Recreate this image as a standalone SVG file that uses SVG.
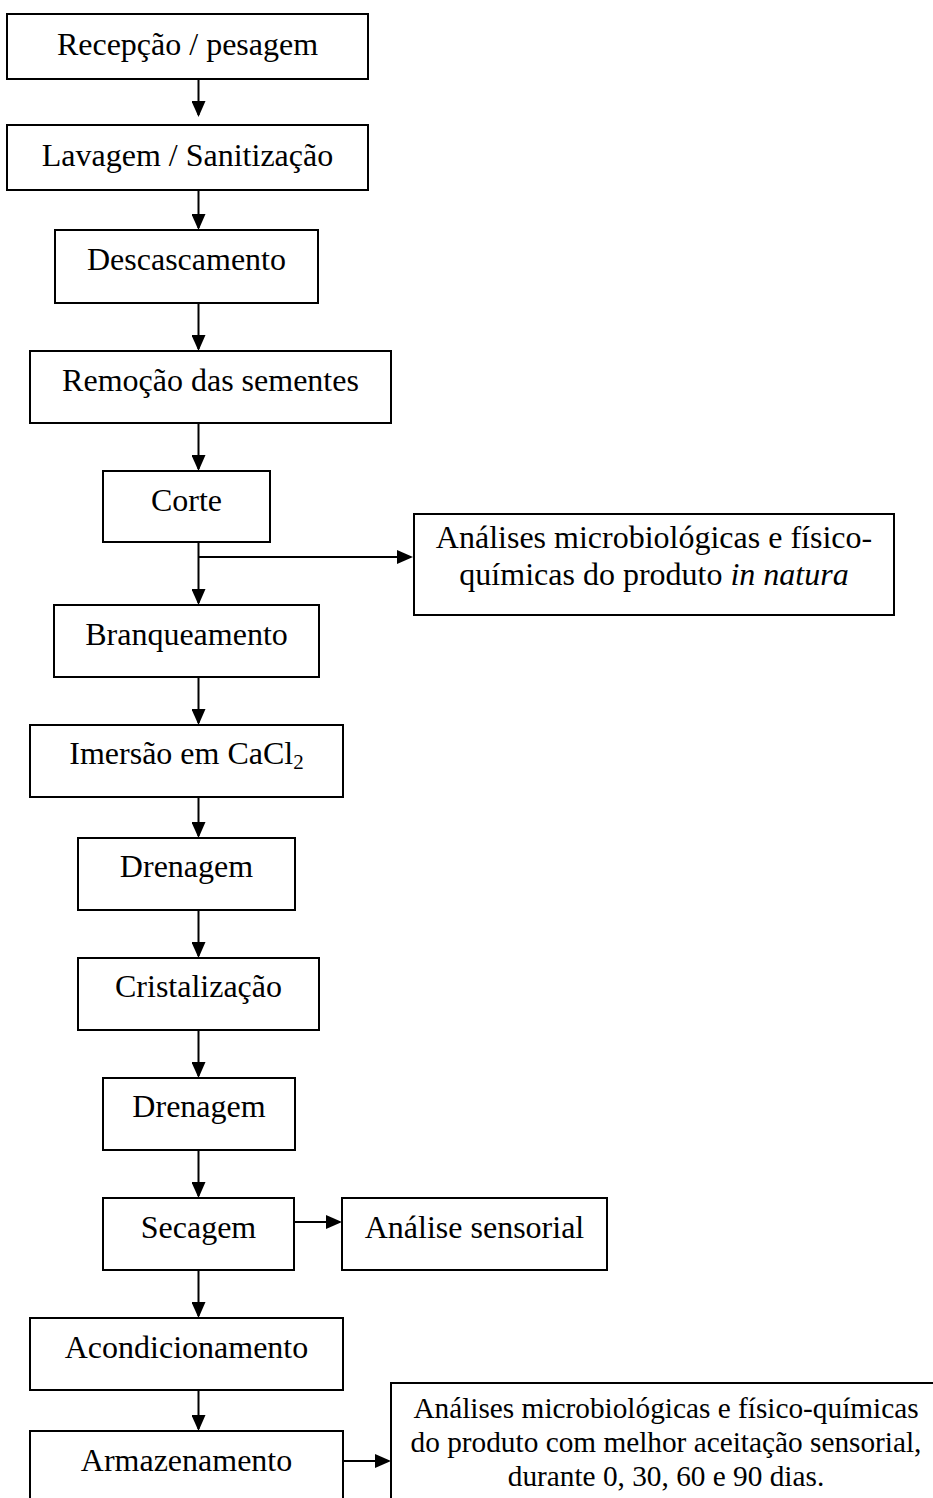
<svg xmlns="http://www.w3.org/2000/svg" width="933" height="1498" viewBox="0 0 933 1498">
<defs>
<style>
.b{fill:#fff;stroke:#000;stroke-width:2}
.t{font-family:"Liberation Serif","Times New Roman",serif;font-size:32px;fill:#000;text-anchor:middle}
.s{font-family:"Liberation Serif","Times New Roman",serif;font-size:29.3px;fill:#000;text-anchor:middle}
.c{stroke:#000;stroke-width:2;fill:none;marker-end:url(#ah)}
</style>
<marker id="ah" viewBox="0 0 16 14" refX="14" refY="7" markerWidth="16" markerHeight="14" markerUnits="userSpaceOnUse" orient="auto">
<path d="M0,0 L16,7 L0,14 Z" fill="#000"/>
</marker>
</defs>
<rect width="933" height="1498" fill="#fff"/>
<g id="connectors">
<line class="c" x1="198.5" y1="79" x2="198.5" y2="115"/>
<line class="c" x1="198.5" y1="190" x2="198.5" y2="228"/>
<line class="c" x1="198.5" y1="303" x2="198.5" y2="349"/>
<line class="c" x1="198.5" y1="423" x2="198.5" y2="469"/>
<line class="c" x1="198.5" y1="542" x2="198.5" y2="603"/>
<line class="c" x1="198.5" y1="557" x2="411" y2="557"/>
<line class="c" x1="198.5" y1="677" x2="198.5" y2="723"/>
<line class="c" x1="198.5" y1="797" x2="198.5" y2="836"/>
<line class="c" x1="198.5" y1="910" x2="198.5" y2="956"/>
<line class="c" x1="198.5" y1="1030" x2="198.5" y2="1076"/>
<line class="c" x1="198.5" y1="1150" x2="198.5" y2="1196"/>
<line class="c" x1="294" y1="1222" x2="340" y2="1222"/>
<line class="c" x1="198.5" y1="1270" x2="198.5" y2="1316"/>
<line class="c" x1="198.5" y1="1390" x2="198.5" y2="1429"/>
<line class="c" x1="343" y1="1461" x2="389" y2="1461"/>
</g>
<g id="n1"><rect class="b" x="7" y="14" width="361" height="65"/><text class="t" x="187.5" y="55">Recepção / pesagem</text></g>
<g id="n2"><rect class="b" x="7" y="125" width="361" height="65"/><text class="t" x="187.5" y="166">Lavagem / Sanitização</text></g>
<g id="n3"><rect class="b" x="55" y="230" width="263" height="73"/><text class="t" x="186.5" y="270">Descascamento</text></g>
<g id="n4"><rect class="b" x="30" y="351" width="361" height="72"/><text class="t" x="210.5" y="391">Remoção das sementes</text></g>
<g id="n5"><rect class="b" x="103" y="471" width="167" height="71"/><text class="t" x="186.5" y="511">Corte</text></g>
<g id="n6"><rect class="b" x="414" y="514" width="480" height="101"/><text class="t" x="654" y="548">Análises microbiológicas e físico-</text><text class="t" x="654" y="585">químicas do produto <tspan font-style="italic">in natura</tspan></text></g>
<g id="n7"><rect class="b" x="54" y="605" width="265" height="72"/><text class="t" x="186.5" y="645">Branqueamento</text></g>
<g id="n8"><rect class="b" x="30" y="725" width="313" height="72"/><text class="t" x="186.5" y="764">Imersão em CaCl<tspan font-size="21" dy="5">2</tspan></text></g>
<g id="n9"><rect class="b" x="78" y="838" width="217" height="72"/><text class="t" x="186.5" y="877">Drenagem</text></g>
<g id="n10"><rect class="b" x="78" y="958" width="241" height="72"/><text class="t" x="198.5" y="997">Cristalização</text></g>
<g id="n11"><rect class="b" x="103" y="1078" width="192" height="72"/><text class="t" x="199" y="1117">Drenagem</text></g>
<g id="n12"><rect class="b" x="103" y="1198" width="191" height="72"/><text class="t" x="198.5" y="1238">Secagem</text></g>
<g id="n13"><rect class="b" x="342" y="1198" width="265" height="72"/><text class="t" x="474.5" y="1238">Análise sensorial</text></g>
<g id="n14"><rect class="b" x="30" y="1318" width="313" height="72"/><text class="t" x="186.5" y="1358">Acondicionamento</text></g>
<g id="n15"><rect class="b" x="30" y="1431" width="313" height="90"/><text class="t" x="186.5" y="1471">Armazenamento</text></g>
<g id="n16"><rect class="b" x="391" y="1383" width="550" height="150"/><text class="s" x="666" y="1418">Análises microbiológicas e físico-químicas</text><text class="s" x="666" y="1452">do produto com melhor aceitação sensorial,</text><text class="s" x="666" y="1486">durante 0, 30, 60 e 90 dias.</text></g>
</svg>
